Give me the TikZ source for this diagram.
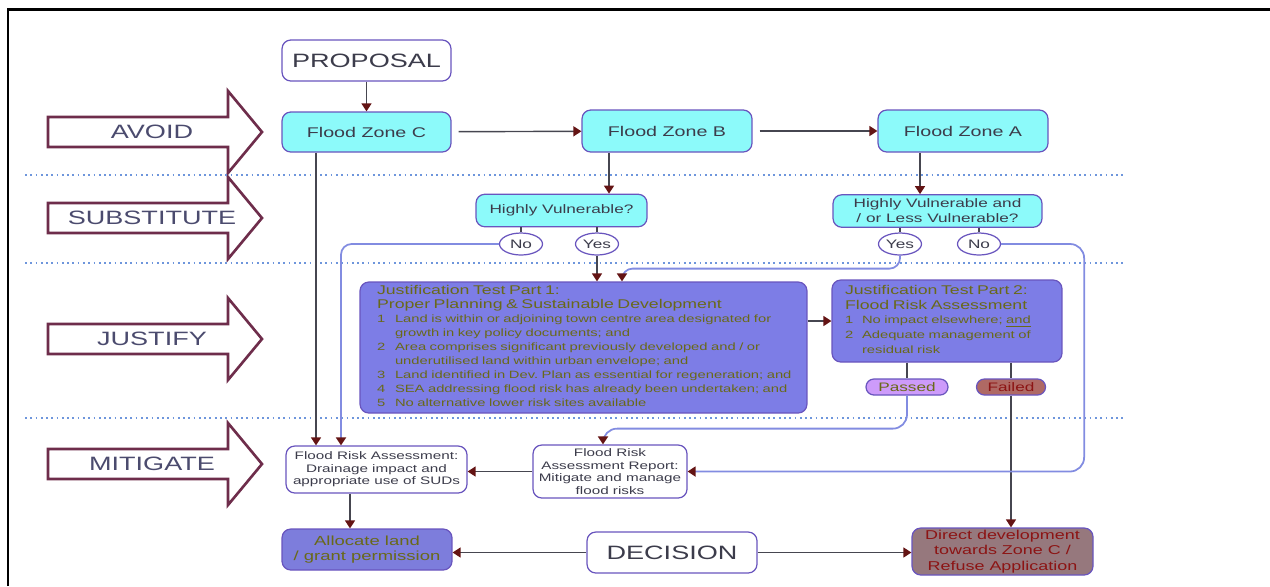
\documentclass[tikz,border=0pt]{standalone}
\usepackage{fontspec}
\setmainfont{Liberation Sans}[FakeStretch=1.4]
\usepackage{tikz}
\usetikzlibrary{arrows.meta,positioning,calc,shapes.geometric}
\frenchspacing
\definecolor{ZoneCyan}{RGB}{140,250,250}
\definecolor{BoxLine}{RGB}{105,85,190}
\definecolor{ZoneText}{RGB}{60,60,75}
\definecolor{TestBlue}{RGB}{125,125,230}
\definecolor{TestText}{RGB}{105,105,25}
\definecolor{PassFill}{RGB}{205,155,250}
\definecolor{FailFill}{RGB}{175,105,100}
\definecolor{DirectFill}{RGB}{150,120,125}
\definecolor{DirectText}{RGB}{140,20,20}
\definecolor{LinkGray}{RGB}{70,70,80}
\definecolor{SoftLink}{RGB}{130,140,225}
\definecolor{TipRed}{RGB}{100,20,20}
\definecolor{SepDot}{RGB}{110,150,220}
\definecolor{StageLine}{RGB}{110,45,75}
\definecolor{StageText}{RGB}{75,75,110}

\begin{document}
\begin{tikzpicture}[x=0.02cm,y=-0.02cm,
    box/.style={draw=BoxLine,rounded corners=5pt,line width=0.7pt,inner sep=1pt,align=center,text=ZoneText},
    zone/.style={box,fill=ZoneCyan,minimum width=3.4cm,minimum height=0.84cm,font=\fontsize{8}{9.5}\selectfont},
    bigbox/.style={box,fill=white,minimum width=3.4cm,minimum height=0.82cm,font=\fontsize{11}{13}\selectfont},
    question/.style={box,fill=ZoneCyan,minimum height=0.65cm,font=\fontsize{7}{8.5}\selectfont},
    answer/.style={ellipse,draw=BoxLine,line width=0.7pt,fill=white,minimum width=0.86cm,minimum height=0.44cm,inner sep=0pt,font=\fontsize{7}{8}\selectfont,text=ZoneText},
    testbox/.style={box,fill=TestBlue,text=TestText,align=left},
    result/.style={draw=BoxLine,line width=0.7pt,rounded corners=4.5pt,minimum height=0.32cm,inner sep=0pt,font=\fontsize{7}{8}\selectfont},
    riskbox/.style={box,fill=white,minimum width=3.6cm,minimum height=0.94cm,font=\fontsize{6.2}{7.1}\selectfont},
    link/.style={draw=LinkGray,line width=0.8pt,-{Triangle[length=1.6mm,width=2mm,color=TipRed]}},
    softlink/.style={link,draw=SoftLink,line width=1pt},
    plain/.style={draw=LinkGray,line width=0.8pt},
    stagearrow/.style={draw=StageLine,line width=1.5pt,fill=white,line join=miter},
    stagelabel/.style={font=\fontsize{11}{13}\selectfont,text=StageText,inner sep=0pt},
    sepline/.style={draw=SepDot,line width=1pt,dotted}]
  \useasboundingbox (0,0) rectangle (1270,586);
  \draw[line width=1.7pt] (8,586) -- (8,9) -- (1270,9);

  % stages
  \foreach \ty/\lbl [count=\i] in {132/AVOID,218/SUBSTITUTE,339/JUSTIFY,464/MITIGATE}{
    \draw[stagearrow] (48,\ty-15) -- (228,\ty-15) -- (228,\ty-41) -- (262,\ty)
      -- (228,\ty+41) -- (228,\ty+15) -- (48,\ty+15) -- cycle;
    \node[stagelabel] (stage\i) at (152,\ty) {\lbl};
  }
  \foreach \ly in {175,263,418}
    \draw[sepline] (25,\ly) -- (1125,\ly);

  % boxes
  \node[bigbox,minimum width=3.38cm] (proposal) at (366.5,60.5) {PROPOSAL};
  \node[zone,minimum width=3.38cm,minimum height=0.8cm] (zoneC) at (366.5,132) {Flood Zone C};
  \node[zone] (zoneB) at (667,131) {Flood Zone B};
  \node[zone] (zoneA) at (963,131) {Flood Zone A};
  \node[question,minimum width=3.42cm] (hv1) at (561.5,210.5) {Highly Vulnerable?};
  \node[answer] (no1) at (521,244) {No};
  \node[answer] (yes1) at (597,244) {Yes};
  \node[question,minimum width=4.18cm] (hv2) at (937.5,211) {Highly Vulnerable and\\/ or Less Vulnerable?};
  \node[answer] (yes2) at (900,244) {Yes};
  \node[answer] (no2) at (979,244) {No};

  \node[testbox,minimum width=8.94cm,minimum height=2.62cm,text width=8.26cm,inner xsep=0.34cm,
    font=\fontsize{6}{8}\selectfont] (jt1) at (583.5,347.5) {%
    \begin{tabular}{@{}p{0.36cm}@{}l@{}}
      \multicolumn{2}{@{}l@{}}{\fontsize{7.2}{8}\selectfont Justification Test Part 1:}\\
      \multicolumn{2}{@{}l@{}}{\fontsize{7.2}{8}\selectfont Proper Planning \& Sustainable Development}\\
      1 & Land is within or adjoining town centre area designated for\\
        & growth in key policy documents; and\\
      2 & Area comprises significant previously developed and / or\\
        & underutilised land within urban envelope; and\\
      3 & Land identified in Dev. Plan as essential for regeneration; and\\
      4 & SEA addressing flood risk has already been undertaken; and\\
      5 & No alternative lower risk sites available
    \end{tabular}};
  \node[testbox,minimum width=4.6cm,minimum height=1.64cm,text width=4.08cm,inner xsep=0.26cm,
    font=\fontsize{6}{8.5}\selectfont] (jt2) at (947,321) {%
    \begin{tabular}{@{}p{0.34cm}@{}l@{}}
      \multicolumn{2}{@{}l@{}}{\fontsize{7.2}{8.5}\selectfont Justification Test Part 2:}\\
      \multicolumn{2}{@{}l@{}}{\fontsize{7.2}{8.5}\selectfont Flood Risk Assessment}\\
      1 & No impact elsewhere; \underline{and}\\
      2 & Adequate management of\\
        & residual risk
    \end{tabular}};
  \node[result,fill=PassFill,text=TestText,minimum width=1.64cm] (passed) at (907,387) {Passed};
  \node[result,fill=FailFill,text=DirectText,minimum width=1.38cm] (failed) at (1011,387) {Failed};

  \node[riskbox,minimum width=3.62cm] (fra) at (376.5,469.5)
    {Flood Risk Assessment:\\Drainage impact and\\appropriate use of SUDs};
  \node[riskbox,minimum width=3.08cm,minimum height=1.06cm] (frar) at (610,471.5)
    {Flood Risk\\Assessment Report:\\Mitigate and manage\\flood risks};
  \node[box,fill=TestBlue!90!gray,text=TestText,minimum width=3.4cm,minimum height=0.82cm,
    font=\fontsize{7.5}{8.5}\selectfont] (allocate) at (367,549.5) {Allocate land\\/ grant permission};
  \node[bigbox] (decision) at (672,552.5) {DECISION};
  \node[box,fill=DirectFill,text=DirectText,minimum width=3.62cm,minimum height=0.94cm,
    font=\fontsize{7.3}{8.8}\selectfont] (direct) at (1002.5,551.5)
    {Direct development\\towards Zone C /\\Refuse Application};

  % connectors
  \coordinate (cdrop) at ([xshift=-1.01cm]zoneC.south);
  \coordinate (bdrop) at ([xshift=-1.16cm]zoneB.south);
  \coordinate (adrop) at ([xshift=-0.86cm]zoneA.south);
  \coordinate (fdrop) at ([xshift=-0.53cm]fra.south);
  \draw[link] (proposal) -- (zoneC);
  \draw[link,shorten <=4pt] (zoneC) -- (zoneB);
  \draw[link,shorten <=4pt] (zoneB) -- (zoneA);
  \draw[link] (bdrop) -- (bdrop |- hv1.north);
  \draw[link] (adrop) -- (adrop |- hv2.north);
  \draw[plain] (no1.north |- hv1.south) -- (no1.north);
  \draw[plain] (yes1.north |- hv1.south) -- (yes1.north);
  \draw[plain] (yes2.north |- hv2.south) -- (yes2.north);
  \draw[plain] (no2.north |- hv2.south) -- (no2.north);
  \draw[link] (cdrop) -- (cdrop |- fra.north);
  \draw[softlink,rounded corners=6pt] (no1.west) -| ([xshift=-0.71cm]fra.north);
  \draw[link] (yes1.south) -- (yes1.south |- jt1.north);
  \draw[softlink,rounded corners=6pt] (yes2.south) -- ++(0,13) -| ([xshift=0.77cm]jt1.north);
  \draw[link] (jt1.east |- jt2.west) -- (jt2.west);
  \draw[plain] (passed.north |- jt2.south) -- (passed.north);
  \draw[plain] (failed.north |- jt2.south) -- (failed.north);
  \draw[link] (failed.south) -- (failed.south |- direct.north);
  \draw[softlink,rounded corners=8pt] (passed.south) -- ++(0,33) -| ([xshift=-0.14cm]frar.north);
  \draw[softlink,rounded corners=8pt] (no2.east) -- ++(83,0) |- (frar.east);
  \draw[link] (frar.west) -- (frar.west -| fra.east);
  \draw[link] (fdrop) -- (fdrop |- allocate.north);
  \draw[link] (decision.west) -- (decision.west -| allocate.east);
  \draw[link] (decision.east) -- (decision.east -| direct.west);
\end{tikzpicture}
\end{document}
